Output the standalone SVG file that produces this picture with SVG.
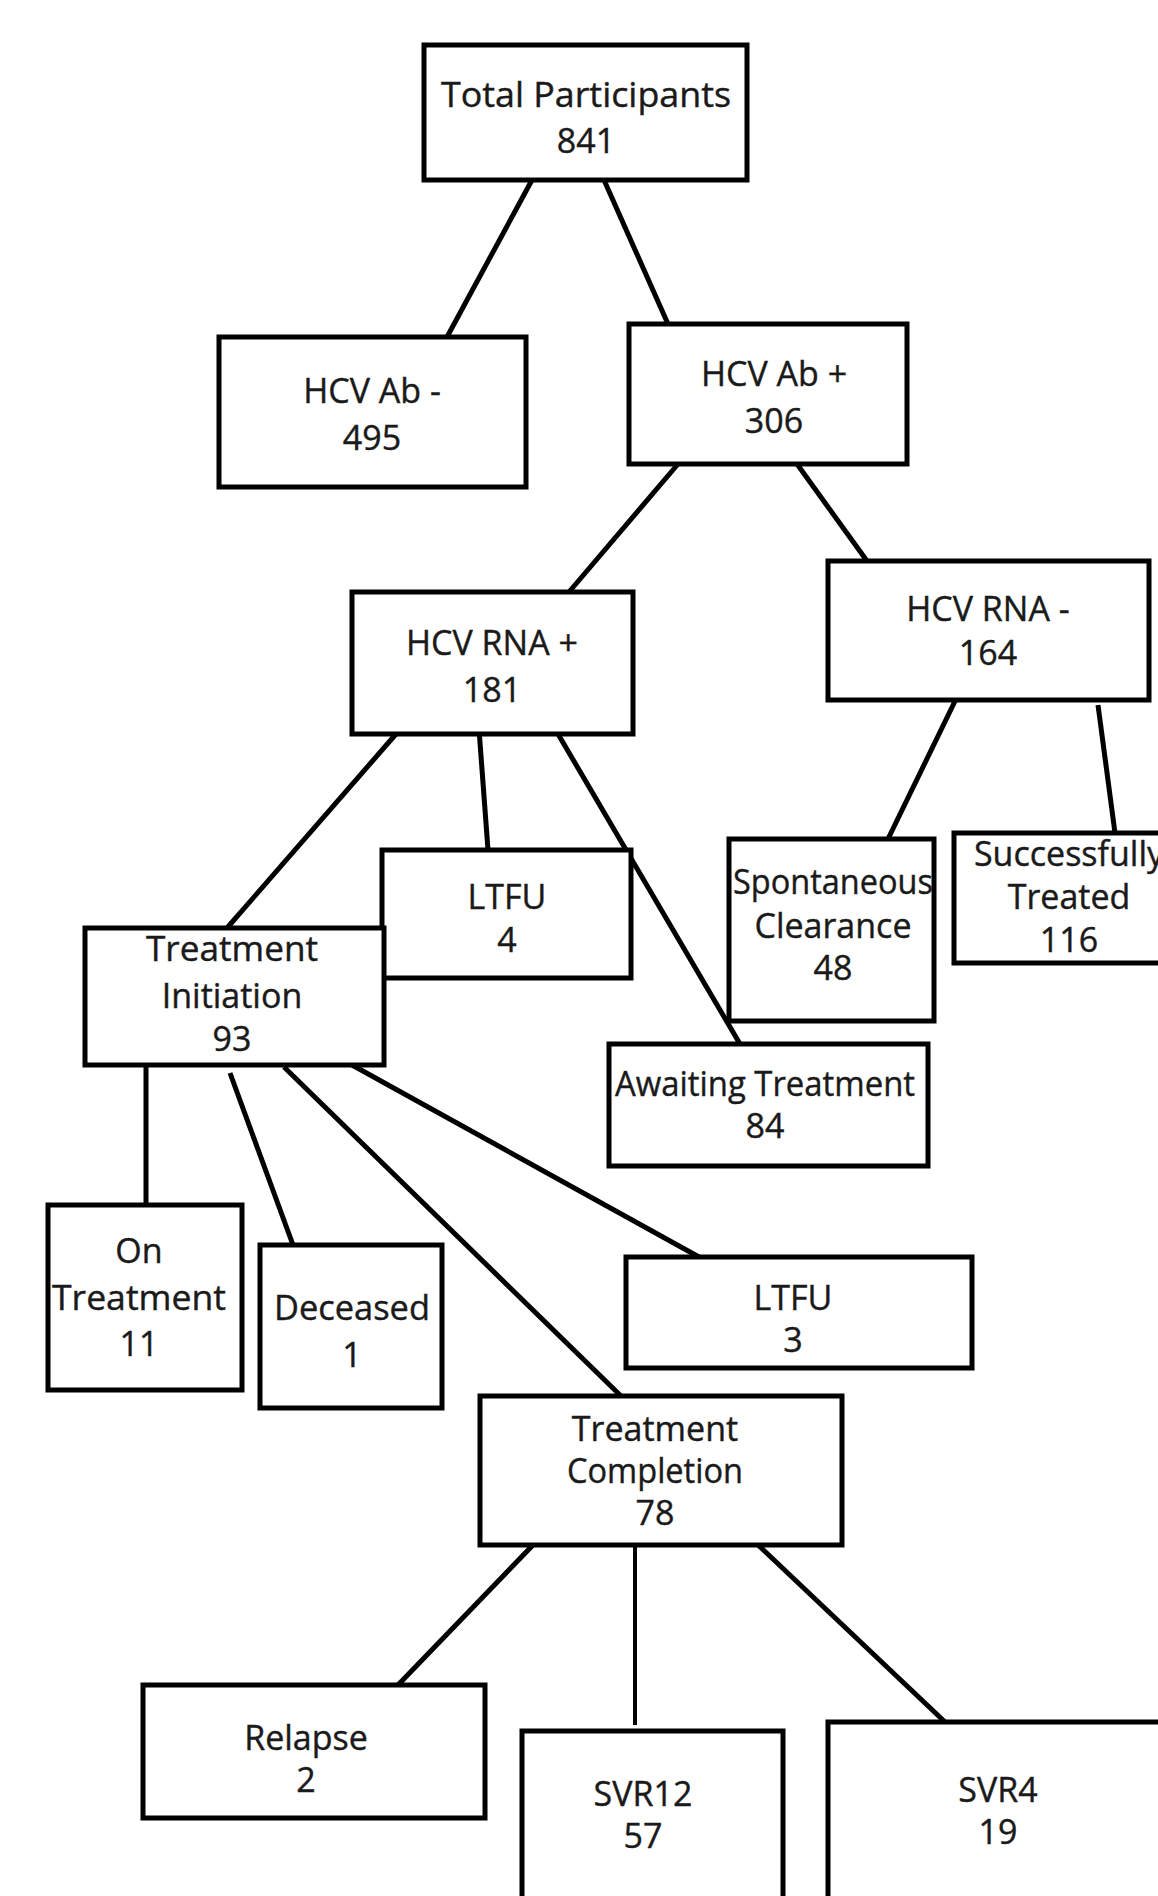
<svg xmlns="http://www.w3.org/2000/svg" width="1158" height="1896" viewBox="0 0 1158 1896">
<style>
.box{fill:#fff;stroke:#000;stroke-width:5}
.t{font-family:"Open Sans","Noto Sans",sans-serif;font-size:34px;fill:#1a1a1a;stroke:#1a1a1a;stroke-width:0.4;text-anchor:middle}
.c line{stroke:#000;stroke-width:5;stroke-linecap:butt}
</style>
<rect width="1158" height="1896" fill="#fff"/>
<g class="c" id="connectors">
<line x1="532" y1="180" x2="447" y2="337"/>
<line x1="604" y1="180" x2="668" y2="324"/>
<line x1="678" y1="464" x2="569" y2="592"/>
<line x1="797" y1="464" x2="867" y2="561"/>
<line x1="396" y1="734" x2="227" y2="928"/>
<line x1="479" y1="729" x2="488" y2="850"/>
<line x1="558" y1="734" x2="740" y2="1044"/>
<line x1="957" y1="697" x2="888" y2="839"/>
<line x1="1098" y1="705" x2="1115" y2="833"/>
<line x1="146" y1="1061" x2="146" y2="1205"/>
<line x1="230" y1="1073" x2="293" y2="1245"/>
<line x1="284" y1="1067" x2="621" y2="1396"/>
<line x1="352" y1="1065" x2="699" y2="1257"/>
<line x1="533" y1="1545" x2="398" y2="1685"/>
<line x1="635" y1="1545" x2="635" y2="1725" style="stroke-width:4"/>
<line x1="755" y1="1542" x2="945" y2="1722"/>
</g>
<g id="total"><rect class="box" x="424" y="45" width="323" height="135"/><text class="t" x="586" y="107" textLength="290" lengthAdjust="spacingAndGlyphs">Total Participants</text><text class="t" x="586" y="153">841</text></g>
<g id="abneg"><rect class="box" x="219" y="337" width="307" height="150"/><text class="t" x="372" y="403">HCV Ab -</text><text class="t" x="372" y="450">495</text></g>
<g id="abpos"><rect class="box" x="629" y="324" width="278" height="140"/><text class="t" x="774" y="386">HCV Ab +</text><text class="t" x="774" y="433">306</text></g>
<g id="rnapos"><rect class="box" x="352" y="592" width="281" height="142"/><text class="t" x="492" y="655">HCV RNA +</text><text class="t" x="492" y="702">181</text></g>
<g id="rnaneg"><rect class="box" x="828" y="561" width="321" height="139"/><text class="t" x="988" y="621">HCV RNA -</text><text class="t" x="988" y="665">164</text></g>
<g id="ltfu4"><rect class="box" x="382" y="850" width="249" height="128"/><text class="t" x="507" y="909">LTFU</text><text class="t" x="507" y="952">4</text></g>
<g id="init"><rect class="box" x="85" y="928" width="299" height="137"/><text class="t" x="232" y="961" textLength="172" lengthAdjust="spacingAndGlyphs">Treatment</text><text class="t" x="232" y="1008">Initiation</text><text class="t" x="232" y="1051">93</text></g>
<g id="spont"><rect class="box" x="729" y="839" width="205" height="182"/><text class="t" x="833" y="894" textLength="200" lengthAdjust="spacingAndGlyphs">Spontaneous</text><text class="t" x="833" y="938">Clearance</text><text class="t" x="833" y="980">48</text></g>
<g id="succ"><rect class="box" x="954" y="833" width="220" height="130"/><text class="t" x="1069" y="866">Successfully</text><text class="t" x="1069" y="909">Treated</text><text class="t" x="1069" y="952">116</text></g>
<g id="await"><rect class="box" x="609" y="1044" width="319" height="122"/><text class="t" x="765" y="1096" textLength="300" lengthAdjust="spacingAndGlyphs">Awaiting Treatment</text><text class="t" x="765" y="1138">84</text></g>
<g id="ontreat"><rect class="box" x="48" y="1205" width="194" height="185"/><text class="t" x="139" y="1263">On</text><text class="t" x="139" y="1310" textLength="174" lengthAdjust="spacingAndGlyphs">Treatment</text><text class="t" x="139" y="1356">11</text></g>
<g id="deceased"><rect class="box" x="260" y="1245" width="182" height="163"/><text class="t" x="352" y="1320" textLength="156" lengthAdjust="spacingAndGlyphs">Deceased</text><text class="t" x="352" y="1367">1</text></g>
<g id="ltfu3"><rect class="box" x="626" y="1257" width="346" height="111"/><text class="t" x="793" y="1310">LTFU</text><text class="t" x="793" y="1352">3</text></g>
<g id="complete"><rect class="box" x="480" y="1396" width="362" height="149"/><text class="t" x="655" y="1441">Treatment</text><text class="t" x="655" y="1483" textLength="176" lengthAdjust="spacingAndGlyphs">Completion</text><text class="t" x="655" y="1525">78</text></g>
<g id="relapse"><rect class="box" x="143" y="1685" width="342" height="133"/><text class="t" x="306" y="1750">Relapse</text><text class="t" x="306" y="1792">2</text></g>
<g id="svr12"><rect class="box" x="522" y="1731" width="261" height="190"/><text class="t" x="643" y="1806">SVR12</text><text class="t" x="643" y="1848">57</text></g>
<g id="svr4"><rect class="box" x="828" y="1722" width="350" height="200"/><text class="t" x="998" y="1802">SVR4</text><text class="t" x="998" y="1844">19</text></g>
</svg>
